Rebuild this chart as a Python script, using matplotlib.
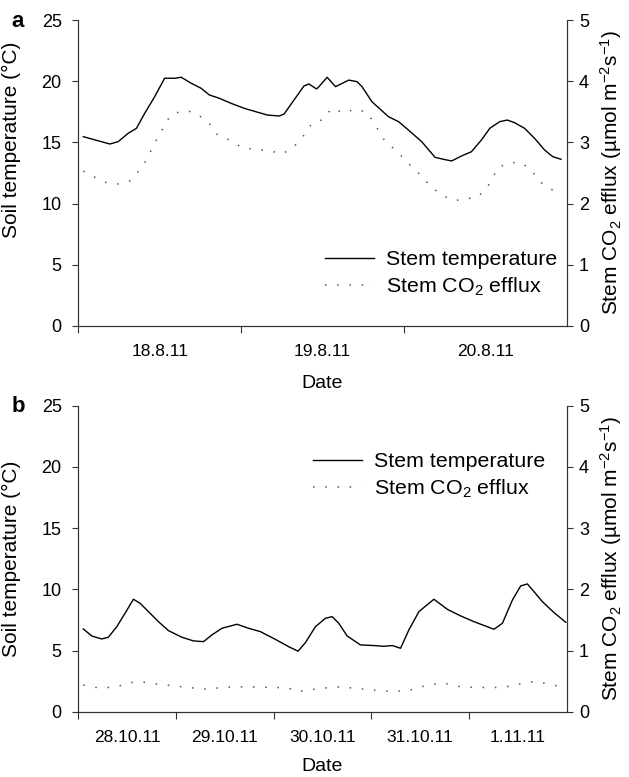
import numpy as np
import matplotlib
matplotlib.use('Agg')
import matplotlib.pyplot as plt
from matplotlib.lines import Line2D

plt.rcParams['font.family'] = ['Liberation Sans', 'DejaVu Sans']
plt.rcParams['mathtext.fontset'] = 'custom'
plt.rcParams['mathtext.rm'] = 'Liberation Sans'
plt.rcParams['mathtext.it'] = 'Liberation Sans:italic'
plt.rcParams['mathtext.default'] = 'regular'

# ---- data (hours since start of first day) ----
# panel a: 18.8.11 - 20.8.11
a_temp_h = [0.73, 4.65, 5.87, 7.34, 8.57, 9.79, 11.26, 12.73, 14.20, 15.18, 16.65, 18.11,
            19.33, 20.80, 22.52, 24.47, 26.19, 27.89, 29.61, 30.34, 31.81, 33.28, 34.01,
            35.14, 35.48, 36.70, 37.93, 39.89, 41.10, 41.84, 43.30, 45.75, 47.22, 48.69,
            50.64, 52.61, 53.83, 55.05, 56.51, 57.98, 59.45, 60.68, 62.15, 63.27, 64.35,
            65.82, 67.29, 68.76, 69.98, 71.19]
a_temp = [15.47, 14.87, 15.06, 15.74, 16.15, 17.38, 18.74, 20.25, 20.25, 20.33, 19.84, 19.43,
          18.88, 18.61, 18.20, 17.79, 17.51, 17.24, 17.16, 17.32, 18.47, 19.62, 19.78,
          19.37, 19.56, 20.33, 19.56, 20.10, 19.97, 19.56, 18.33, 17.10, 16.70, 16.01,
          15.06, 13.78, 13.62, 13.48, 13.89, 14.24, 15.20, 16.15, 16.70, 16.83, 16.61,
          16.15, 15.33, 14.38, 13.83, 13.62]
a_flux_h = [0.73, 2.45, 4.17, 5.87, 7.59, 9.06, 10.04, 11.26, 12.48, 13.46, 14.20, 15.66,
            16.65, 18.35, 19.33, 20.55, 22.27, 24.22, 25.94, 28.39, 30.09, 31.81, 33.28,
            34.50, 35.96, 37.43, 39.15, 40.87, 42.57, 43.81, 45.27, 46.97, 48.44, 50.16,
            52.11, 54.08, 55.55, 57.02, 58.97, 60.44, 61.91, 63.63, 65.33, 66.80, 68.03,
            69.25, 70.62, 71.19]
a_flux = [2.53, 2.43, 2.34, 2.32, 2.37, 2.55, 2.71, 2.99, 3.23, 3.42, 3.49, 3.49,
          3.51, 3.40, 3.31, 3.12, 3.04, 2.91, 2.89, 2.86, 2.81, 2.93, 3.12,
          3.32, 3.37, 3.56, 3.48, 3.55, 3.49, 3.28, 3.01, 2.86, 2.68, 2.50,
          2.26, 2.11, 2.05, 2.07, 2.11, 2.29, 2.59, 2.67, 2.67, 2.55, 2.36,
          2.27, 2.17, 2.14]
a_days = ['18.8.11', '19.8.11', '20.8.11']

# panel b: 28.10.11 - 1.11.11
b_temp_h = [1.23, 3.30, 5.76, 7.39, 9.45, 11.50, 13.54, 15.19, 17.23, 19.70, 22.16, 25.45,
            28.31, 30.77, 32.84, 35.30, 38.99, 41.85, 44.73, 48.42, 51.70, 54.01, 55.81,
            58.28, 60.74, 62.39, 64.01, 66.08, 69.35, 72.63, 75.09, 77.16, 79.20, 81.24,
            83.71, 87.40, 90.70, 93.97, 97.25, 102.17, 104.24, 106.70, 108.73, 110.38,
            112.00, 114.07, 116.92, 119.80]
b_temp = [6.78, 6.20, 5.96, 6.10, 6.96, 8.06, 9.20, 8.87, 8.19, 7.37, 6.64, 6.10,
          5.80, 5.74, 6.29, 6.83, 7.16, 6.83, 6.56, 5.93, 5.33, 4.96, 5.66,
          6.96, 7.65, 7.78, 7.24, 6.20, 5.47, 5.42, 5.36, 5.42, 5.20, 6.69,
          8.19, 9.20, 8.38, 7.84, 7.37, 6.75, 7.24, 9.14, 10.29, 10.45,
          9.82, 9.00, 8.11, 7.32]
b_flux_h = [1.23, 4.11, 7.39, 9.85, 12.73, 15.61, 18.88, 23.00, 27.08, 31.61, 35.30, 38.58,
            42.69, 48.42, 51.70, 53.77, 56.63, 60.32, 63.62, 67.71, 71.82, 75.93, 79.62,
            82.48, 85.78, 89.87, 93.97, 98.90, 103.01, 106.29, 109.17, 111.21, 114.48,
            118.59]
b_flux = [0.44, 0.40, 0.40, 0.42, 0.48, 0.49, 0.46, 0.43, 0.40, 0.37, 0.40, 0.41,
          0.41, 0.40, 0.39, 0.33, 0.36, 0.39, 0.41, 0.39, 0.36, 0.34, 0.34,
          0.37, 0.44, 0.47, 0.41, 0.40, 0.40, 0.42, 0.47, 0.49, 0.47,
          0.41]
b_days = ['28.10.11', '29.10.11', '30.10.11', '31.10.11', '1.11.11']

spine_col = '#333333'
flux_col = '#555555'
dots = (0, (1, 7))

fig = plt.figure(figsize=(6.29, 7.77), dpi=100)


def panel(rect, th, tv, fh, fv, days, letter, letter_y, leg_xy, lab_y, date_pad):
    ax = fig.add_axes(rect)
    ax2 = ax.twinx()
    ndays = len(days)
    ax.plot(th, tv, color='k', lw=1.0)
    ax2.plot(fh, fv, color=flux_col, lw=1.1, linestyle=dots)
    ax.set_xlim(0, 24 * ndays)
    ax.set_ylim(0, 25)
    ax2.set_ylim(0, 5)
    ax.set_yticks([0, 5, 10, 15, 20, 25])
    ax2.set_yticks([0, 1, 2, 3, 4, 5])
    ax.set_xticks([24 * i for i in range(ndays)])
    ax.set_xticklabels([])
    ax.set_xticks([24 * i + 12 for i in range(ndays)], minor=True)
    ax.set_xticklabels(days, minor=True, fontsize=12.5)
    ax.tick_params(axis='x', which='major', length=5, width=0.8, color=spine_col, direction='out')
    ax.tick_params(axis='x', which='minor', length=0, pad=13)
    ax.tick_params(axis='y', length=4, width=0.8, color=spine_col, labelsize=13, pad=8)
    ax2.tick_params(axis='y', length=4, width=0.8, color=spine_col, labelsize=13, pad=5)
    for a in (ax, ax2):
        a.spines['top'].set_visible(False)
        for s in ('left', 'right', 'bottom'):
            a.spines[s].set_color(spine_col)
            a.spines[s].set_linewidth(0.8)
    ax.set_ylabel('Soil temperature (°C)', fontsize=15)
    ax2.set_ylabel('Stem CO$_2$ efflux (µmol m$^{-2}$s$^{-1}$)', fontsize=15)
    ax.yaxis.set_label_coords(-0.118, lab_y)
    ax2.yaxis.set_label_coords(1.064, 0.5)
    ax.set_xlabel('Date', fontsize=14, labelpad=date_pad)
    handles = [Line2D([], [], color='k', lw=1.0),
               Line2D([], [], color=flux_col, lw=1.1, linestyle=dots)]
    ax2.legend(handles, ['Stem temperature', 'Stem CO$_2$ efflux'], frameon=False,
               fontsize=15.4, loc='upper left', bbox_to_anchor=leg_xy,
               bbox_transform=fig.transFigure, borderpad=0, borderaxespad=0,
               handlelength=2.3, handletextpad=0.55, labelspacing=0.3)
    fig.text(18 / 629, 1 - letter_y / 777, letter, fontsize=16, fontweight='bold',
             ha='center', va='baseline')
    return ax, ax2


panel([0.1245, 0.5808, 0.7762, 0.3932], a_temp_h, a_temp, a_flux_h, a_flux, a_days,
      'a', 27, (325 / 629, 1 - 250 / 777), 0.61, 12)
panel([0.1245, 0.0837, 0.7762, 0.3942], b_temp_h, b_temp, b_flux_h, b_flux, b_days,
      'b', 412, (313 / 629, 1 - 452 / 777), 0.5, 9.5)

fig.savefig('out.png', dpi=100)
